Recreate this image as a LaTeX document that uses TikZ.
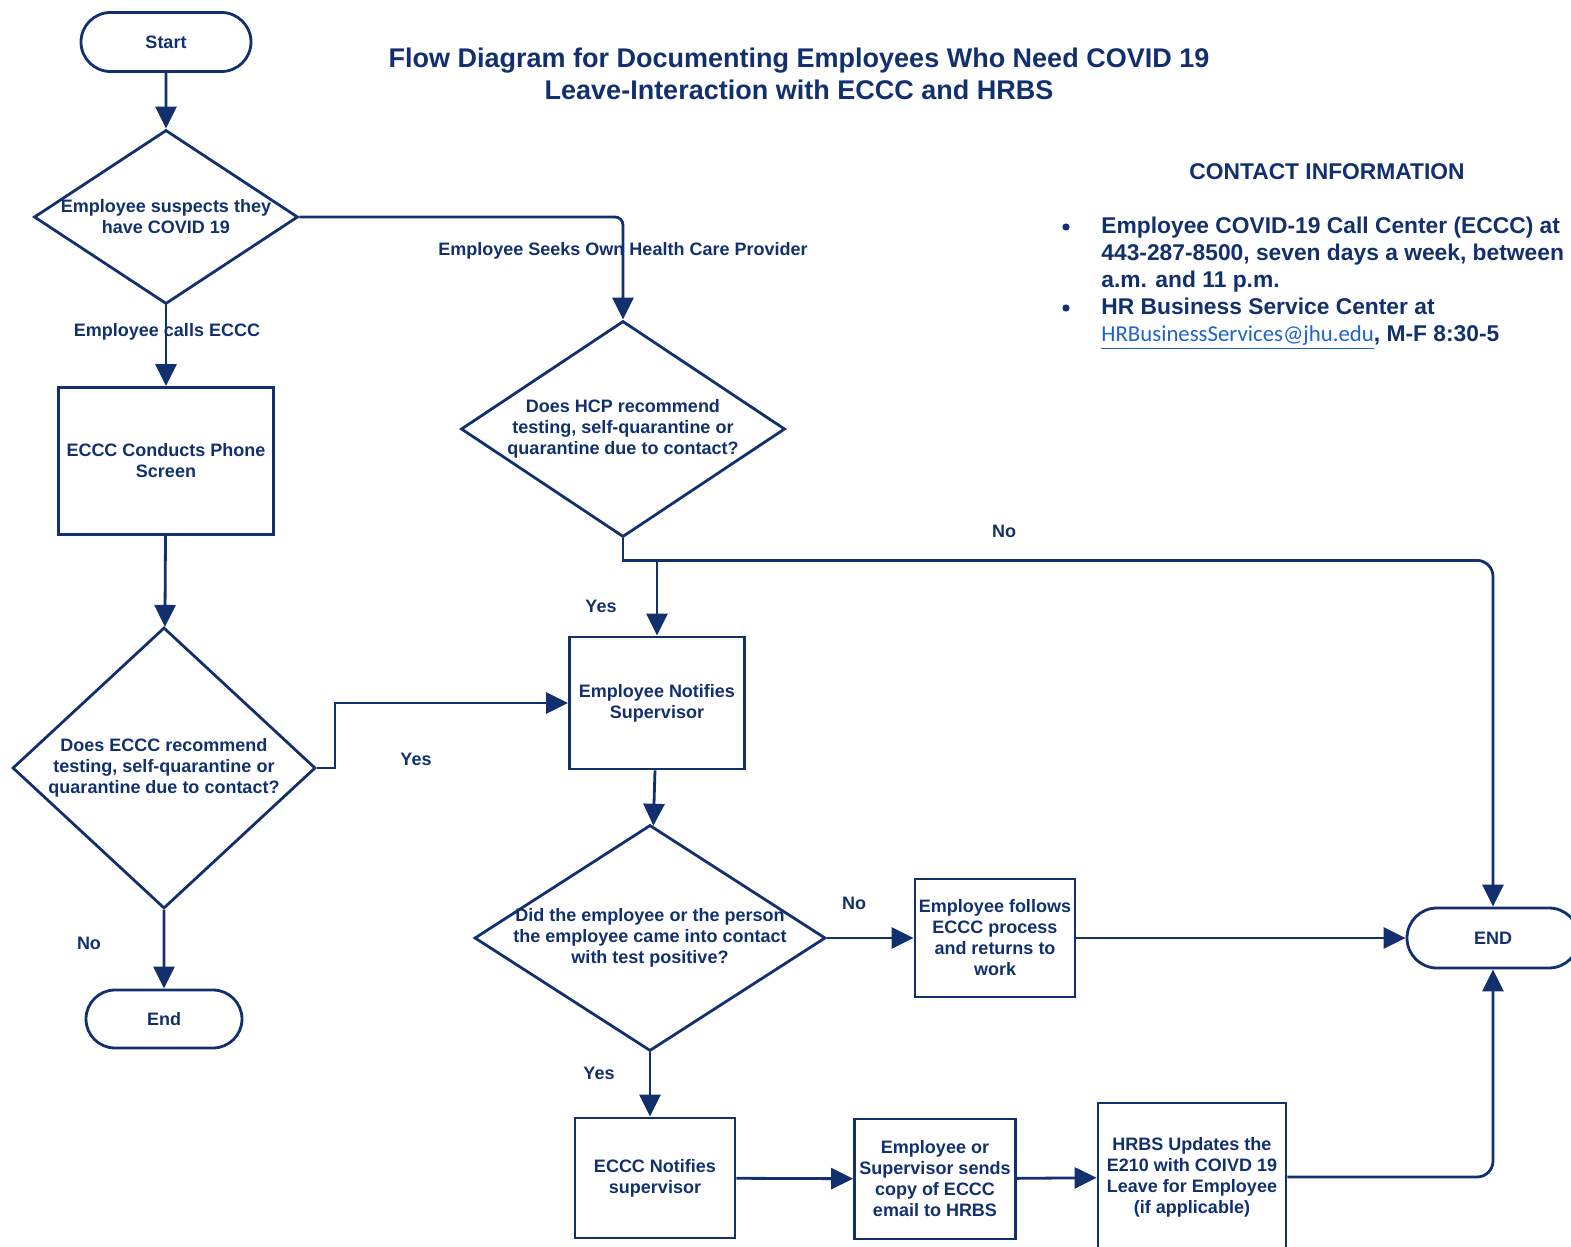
\documentclass[tikz,border=0pt]{standalone}
\usepackage{fontspec}
\setmainfont{Liberation Sans}
\newfontfamily\linkfont{Carlito}
\usepackage{xcolor}
\usetikzlibrary{shapes.geometric, shapes.misc, arrows.meta, calc}

\definecolor{navy}{RGB}{17,48,109}
\definecolor{linkblue}{RGB}{30,100,200}

\tikzset{
	flow/.style={draw=navy, line width=1.4pt, text=navy, font=\fontsize{9}{10.5}\selectfont\bfseries, align=center, inner sep=1pt},
	terminal/.style={flow, rounded rectangle},
	decision/.style={flow, diamond, inner sep=-4pt},
	process/.style={flow, rectangle},
	lbl/.style={text=navy, font=\fontsize{9}{10.5}\selectfont\bfseries, inner sep=0pt},
	info/.style={text=navy, font=\fontsize{11.4}{13.5}\selectfont\bfseries, inner sep=0pt},
	dot/.style={circle, fill=navy, inner sep=0pt, minimum size=3.6pt}
}

\begin{document}
\begin{tikzpicture}[x=0.5pt, y=-0.5pt]
					\path[use as bounding box, clip] (0,0) rectangle (1571,1247);

					% title and contact block
					\node[info, font=\fontsize{13.5}{16}\selectfont\bfseries, align=center] (title) at (799,74)
						{Flow Diagram for Documenting Employees Who Need COVID 19\\Leave-Interaction with ECCC and HRBS};
					\node[info] (contacthead) at (1327,172) {CONTACT INFORMATION};
					\node[dot] (bullet1) at (1066,227) {};
					\node[dot] (bullet2) at (1066,308) {};
					\node[info, anchor=north west, align=left] (eccclines) at (1101,217)
						{Employee COVID-19 Call Center (ECCC) at\\443-287-8500, seven days a week, between\\a.m. and 11 p.m.};
					\node[info, anchor=north west, align=left] (hrlines) at (1101,298)
						{HR Business Service Center at\\\textcolor{linkblue}{\linkfont\mdseries\underline{HRBusinessServices@jhu.edu}}, M-F 8:30-5};

					% left column
					\node[terminal, minimum width=87pt, minimum height=29.5pt] (start) at (166,42) {Start};
					\node[decision, aspect=1.52, minimum width=132pt, minimum height=87pt] (suspect) at (166,217)
						{Employee suspects they\\have COVID 19};
					\node[process, minimum width=107.5pt, minimum height=73.5pt] (screen) at (166,461)
						{ECCC Conducts Phone\\Screen};
					\node[decision, aspect=1.08, minimum width=151.5pt, minimum height=140.5pt] (ecccask) at (164,768)
						{Does ECCC recommend\\testing, self-quarantine or\\quarantine due to contact?};
					\node[terminal, minimum width=80pt, minimum height=29pt] (end1) at (164,1019) {End};

					% middle and right
					\node[decision, aspect=1.5, minimum width=162pt, minimum height=108pt] (hcp) at (623,429)
						{Does HCP recommend\\testing, self-quarantine or\\quarantine due to contact?};
					\node[process, minimum width=87.5pt, minimum height=66pt] (notify) at (657,703)
						{Employee Notifies\\Supervisor};
					\node[decision, aspect=1.55, minimum width=175.5pt, minimum height=113pt] (contactq) at (650,938)
						{Did the employee or the person\\the employee came into contact\\with test positive?};
					\node[process, minimum width=80pt, minimum height=59pt] (follows) at (995,938)
						{Employee follows\\ECCC process\\and returns to\\work};
					\node[terminal, minimum width=88pt, minimum height=30pt] (endR) at (1493,938) {END};
					\node[process, minimum width=80pt, minimum height=60pt] (ecccnotify) at (655,1178)
						{ECCC Notifies\\supervisor};
					\node[process, minimum width=80.5pt, minimum height=60pt] (sendcopy) at (935,1179)
						{Employee or\\Supervisor sends\\copy of ECCC\\email to HRBS};
					\node[process, minimum width=94pt, minimum height=74pt] (hrbsupdate) at (1192,1177)
						{HRBS Updates the\\E210 with COIVD 19\\Leave for Employee\\(if applicable)};
					\coordinate (hcpjoin) at ($(hcp.south)+(0,22)$);

					% connector labels
					\node[lbl] (seekslbl) at (623,251) {Employee Seeks Own Health Care Provider};
					\node[lbl] (callslbl) at (167,332) {Employee calls ECCC};
					\node[lbl] (yesleft) at (416,759) {Yes};
					\node[lbl] (noleft) at (89,943) {No};
					\node[lbl] (yeshcp) at (601,606) {Yes};
					\node[lbl] (nohcp) at (1004,531) {No};
					\node[lbl] (nocontact) at (854,903) {No};
					\node[lbl] (yescontact) at (599,1073) {Yes};

					\begin{scope}[draw=navy, line width=1.4pt, -{Triangle[length=11pt,width=10.5pt]}]
						\draw (start) -- (suspect);
						\draw[rounded corners=4pt] (suspect.east) -| (hcp.north);
						\draw (suspect.south) -- (screen.north);
						\draw (screen) -- (ecccask);
						\draw (ecccask.east) -- ++(18,0) |- (notify.west);
						\draw (ecccask) -- (end1);
						\draw (hcp.south) -- (hcpjoin) -| (notify.north);
						\draw[rounded corners=8pt] (hcpjoin) -| (endR.north);
						\draw (notify) -- (contactq);
						\draw (contactq) -- (follows);
						\draw (follows) -- (endR);
						\draw (contactq.south) -- (contactq.south |- ecccnotify.north);
						\foreach \a/\b in {ecccnotify/sendcopy, sendcopy/hrbsupdate}
						{
							\draw (\a) -- (\b);
						}
						\draw[rounded corners=8pt] (hrbsupdate.east) -| (endR.south);
					\end{scope}
				\end{tikzpicture}
\end{document}
